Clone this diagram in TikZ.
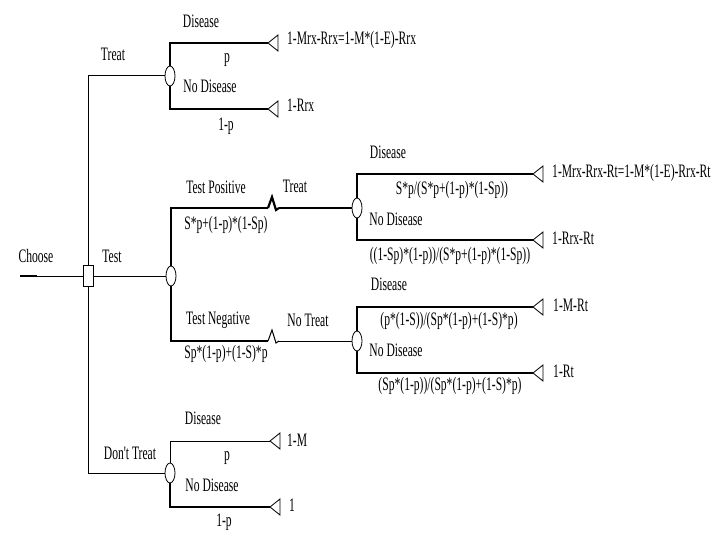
\documentclass[tikz,border=0pt]{standalone}
\usepackage{fontspec}
\usetikzlibrary{shapes.geometric}
\newfontfamily\nf[FakeStretch=0.61]{Liberation Serif}
\begin{document}
\begin{tikzpicture}[x=1pt,y=-1pt,
  br/.style={line width=1pt},
  tb/.style={line width=2.2pt},
  lbl/.style={font={\nf\fontsize{19}{19}\selectfont}, inner sep=0pt},
  chance/.style={ellipse, draw, fill=white, line width=0.8pt, minimum width=10pt, minimum height=20pt, inner sep=0pt},
  decis/.style={rectangle, draw, fill=white, line width=0.8pt, minimum width=10pt, minimum height=21pt, inner sep=0pt},
  termtri/.style={line width=0.8pt}]
\useasboundingbox (0,0) rectangle (720,540);
\fill[white] (0,0) rectangle (720,540);

% nodes
\coordinate (c0) at (20,276);
\node[decis] (D) at (88,276) {};
\node[chance] (T) at (170,76) {};
\node[chance] (X) at (171,276) {};
\node[chance] (N) at (170,473) {};
\node[chance] (TPc) at (357,208) {};
\node[chance] (TNc) at (357,341) {};

% terminal coordinates
\coordinate (t1) at (268,43);
\coordinate (t2) at (268,109);
\coordinate (t3) at (533,174);
\coordinate (t4) at (533,240);
\coordinate (t5) at (533,307);
\coordinate (t6) at (533,373);
\coordinate (t7) at (270,441);
\coordinate (t8) at (270,507);
\coordinate (zp1) at (268,208);
\coordinate (zn1) at (268,341);

% connectors
\draw[br] (c0) -- (D);
\draw[tb] (c0) -- ++(17,0);
\draw[br] (D) |- (T);
\draw[br] (D) -- (X);
\draw[br] (D) |- (N);

\draw[tb] (T) |- (t1);
\draw[line width=1.7pt] (T) |- (t2);

\draw[tb] (X) |- (zp1);
\draw[tb] (zp1) -- ++(4,-11) -- ++(4,13) -- ++(3,-2) coordinate (zp2);
\draw[tb] (zp2) -- (TPc);
\draw[line width=1.6pt] (X) |- (zn1);
\draw[br] (zn1) -- ++(4,-11) -- ++(4,13) -- ++(3,-2) coordinate (zn2);
\draw[br] (zn2) -- (TNc);

\draw[line width=1.4pt] (TPc) |- (t3);
\draw[tb] (TPc) |- (t4);
\draw[tb] (TNc) |- (t5);
\draw[tb] (TNc) |- (t6);

\draw[br] (N) |- (t7);
\draw[tb] (N) |- (t8);

\foreach \t in {t1,t2,t3,t4,t5,t6,t7,t8}
  \draw[termtri] (\t) -- ++(10,-8) -- ++(0,16) -- cycle;

% labels
\node[lbl] (lchoose) at (36,256) {Choose};
\node[lbl] (ltreat) at (113,54) {Treat};
\node[lbl] (ltest) at (112,256) {Test};
\node[lbl] (ldont) at (130,453) {Don't Treat};

\node[lbl] (d1) at (201,21) {Disease};
\node[lbl] (p1) at (227,60) {p};
\node[lbl] (nd1) at (210,86) {No Disease};
\node[lbl] (q1) at (226,126) {1-p};
\node[lbl, anchor=west] (v1) at (287,40) {1-Mrx-Rrx=1-M*(1-E)-Rrx};
\node[lbl, anchor=west] (v2) at (287,105) {1-Rrx};

\node[lbl] (ltp) at (216,187) {Test Positive};
\node[lbl] (ptp) at (226,225) {S*p+(1-p)*(1-Sp)};
\node[lbl] (ltpt) at (295,186) {Treat};
\node[lbl] (d2) at (388,152) {Disease};
\node[lbl] (p2) at (452,190) {S*p/(S*p+(1-p)*(1-Sp))};
\node[lbl] (nd2) at (396,219) {No Disease};
\node[lbl] (q2) at (450,256) {((1-Sp)*(1-p))/(S*p+(1-p)*(1-Sp))};
\node[lbl, anchor=west] (v3) at (552,173) {1-Mrx-Rrx-Rt=1-M*(1-E)-Rrx-Rt};
\node[lbl, anchor=west] (v4) at (552,238) {1-Rrx-Rt};

\node[lbl] (ltn) at (218,320) {Test Negative};
\node[lbl] (ptn) at (226,354) {Sp*(1-p)+(1-S)*p};
\node[lbl] (ltnt) at (308,320) {No Treat};
\node[lbl] (d3) at (389,284) {Disease};
\node[lbl] (p3) at (449,321) {(p*(1-S))/(Sp*(1-p)+(1-S)*p)};
\node[lbl] (nd3) at (396,350) {No Disease};
\node[lbl] (q3) at (450,386) {(Sp*(1-p))/(Sp*(1-p)+(1-S)*p)};
\node[lbl, anchor=west] (v5) at (553,305) {1-M-Rt};
\node[lbl, anchor=west] (v6) at (553,371) {1-Rt};

\node[lbl] (d4) at (203,418) {Disease};
\node[lbl] (p4) at (227,458) {p};
\node[lbl] (nd4) at (212,485) {No Disease};
\node[lbl] (q4) at (224,522) {1-p};
\node[lbl, anchor=west] (v7) at (287,440) {1-M};
\node[lbl, anchor=west] (v8) at (289,505) {1};
\end{tikzpicture}
\end{document}
